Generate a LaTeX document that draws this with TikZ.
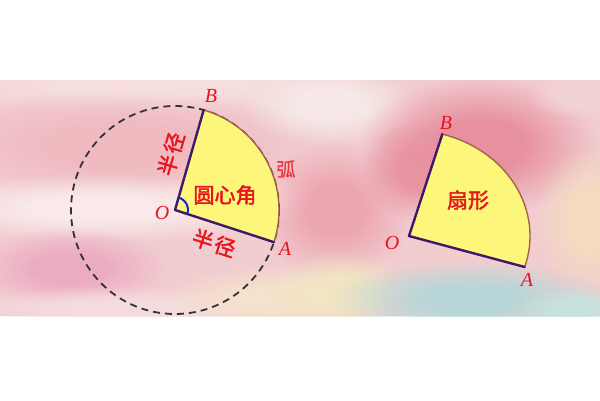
\documentclass[tikz,border=0pt]{standalone}
\usepackage{fontspec}
\setmainfont{Liberation Serif}
\newfontfamily\cjk{Noto Sans CJK SC}[FakeBold=2]
\newfontfamily\cjkl{Noto Sans CJK SC}[FakeBold=0.6]
\usetikzlibrary{calc,fadings}
\pgfdeclareradialshading{softshade}{\pgfpointorigin}{color(0bp)=(pgftransparent!0); color(9bp)=(pgftransparent!0); color(25bp)=(pgftransparent!100); color(50bp)=(pgftransparent!100)}
\pgfdeclarefading{soft}{\pgfuseshading{softshade}}
\definecolor{labred}{HTML}{E8141E}
\definecolor{secfill}{HTML}{FCF77A}
\definecolor{radcol}{HTML}{40186A}
\definecolor{arccol}{HTML}{A8604C}
\definecolor{angblue}{HTML}{1428C8}
\definecolor{base}{HTML}{F2CDD0}
\tikzset{
  blob/.style={/utils/exec={\definecolor{blobc}{HTML}{#1}}, fill=blobc, path fading=soft, fill opacity=0.9},
  radline/.style={draw=radcol, line width=2.4pt, line cap=round, line join=round},
  arcline/.style={draw=arccol, line width=1.4pt},
  sector/.style={fill=secfill},
  lab/.style={text=labred, font=\cjk\fontsize{21}{21}\selectfont, inner sep=0pt},
  lablight/.style={text=labred!85, font=\cjkl\fontsize{19}{19}\selectfont, inner sep=0pt},
  ptlab/.style={text=labred, font=\itshape\fontsize{20}{20}\selectfont, inner sep=0pt},
  dashcirc/.style={draw=black!80, line width=1.8pt, dash pattern=on 7pt off 5pt},
  angarc/.style={draw=angblue, line width=2pt}
}
\begin{document}
\begin{tikzpicture}[x=1pt,y=1pt]
\useasboundingbox (0,0) rectangle (600,400);
\fill[white] (0,0) rectangle (600,400);
% watercolor band
\begin{scope}
\clip (0,84) rectangle (600,320);
\fill[base] (0,84) rectangle (600,320);
\fill[blob=F7E0E1] (150,315) ellipse [x radius=260, y radius=30];
\fill[blob=EFB8BF] (120,255) ellipse [x radius=200, y radius=55];
\fill[blob=FAEDED] (100,192) ellipse [x radius=200, y radius=34];
\fill[blob=F8E8E8] (240,200) ellipse [x radius=90, y radius=25];
\fill[blob=EBA8C2] (70,132) ellipse [x radius=100, y radius=40];
\fill[blob=F5DDE0] (120,92) ellipse [x radius=170, y radius=22];
\fill[blob=F6E4CC] (280,102) ellipse [x radius=120, y radius=32];
\fill[blob=F7ECEA] (330,295) ellipse [x radius=90, y radius=40];
\fill[blob=ECA2AE] (335,190) ellipse [x radius=80, y radius=70];
\fill[blob=E68A9B] (480,255) ellipse [x radius=120, y radius=70];
\fill[blob=E8919F] (420,230) ellipse [x radius=60, y radius=50];
\fill[blob=F5DDBF] (590,180) ellipse [x radius=55, y radius=75];
\fill[blob=F3D4D6] (585,305) ellipse [x radius=60, y radius=25];
\fill[blob=F2E6C2] (340,110) ellipse [x radius=70, y radius=40];
\fill[blob=B2D8D8] (470,102) ellipse [x radius=140, y radius=38];
\fill[blob=C5E4E0] (575,92) ellipse [x radius=60, y radius=22];
\end{scope}
% left figure
\coordinate (O1) at (175,190);
\coordinate (A1) at ($(O1)+(-18:104)$);
\coordinate (B1) at ($(O1)+(74:104)$);
\draw[dashcirc] (O1) circle[radius=104];
\fill[sector] (O1) -- (A1) arc[start angle=-18, end angle=74, radius=104] -- cycle;
\draw[arcline] (A1) arc[start angle=-18, end angle=74, radius=104];
\draw[radline] (A1) -- (O1) -- (B1);
\draw[angarc] ($(O1)+(-18:13)$) arc[start angle=-18, end angle=74, radius=13];
\node[ptlab] (lO1) at (162,187) {O};
\node[ptlab] (lA1) at (285,151) {A};
\node[ptlab] (lB1) at (211,304) {B};
\node[lab, rotate=74] (r1) at (171,246) {半\kern2pt径};
\node[lab, rotate=-18] (r2) at (214,157) {半\kern2pt径};
\node[lablight] (hu) at (286,231) {弧};
\node[lab] (yxj) at (225,205) {圆心角};
% right figure
\coordinate (O2) at (409,164);
\coordinate (A2) at ($(O2)+({121*cos(-17)},{106*sin(-17)})$);
\coordinate (B2) at ($(O2)+({121*cos(74)},{106*sin(74)})$);
\fill[sector] (O2) -- (A2) arc[start angle=-17, end angle=74, x radius=121, y radius=106] -- cycle;
\draw[arcline] (A2) arc[start angle=-17, end angle=74, x radius=121, y radius=106];
\draw[radline] (A2) -- (O2) -- (B2);
\node[ptlab] (lO2) at (392,157) {O};
\node[ptlab] (lA2) at (527,120) {A};
\node[ptlab] (lB2) at (446,277) {B};
\node[lab] (sx) at (468,200) {扇形};
\end{tikzpicture}
\end{document}
